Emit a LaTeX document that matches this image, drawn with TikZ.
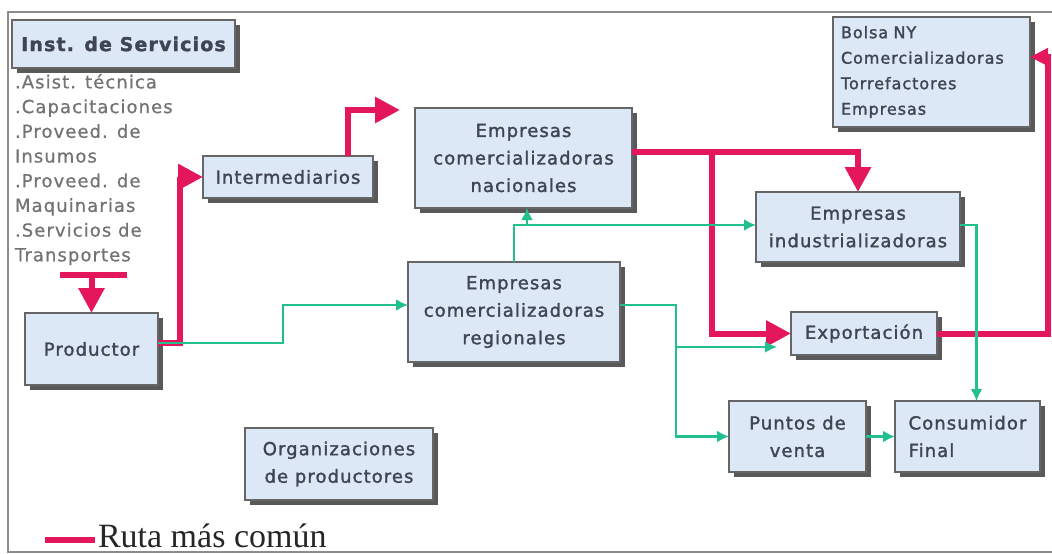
\documentclass[tikz,border=0pt]{standalone}
\usepackage{fontspec}
\setmainfont{DejaVu Sans}
\newfontfamily\cajafont[LetterSpace=6,FakeBold=1.6]{DejaVu Sans}
\newfontfamily\listafont[LetterSpace=6,FakeBold=0.8]{DejaVu Sans}
\newfontfamily\leyendafont{Liberation Serif}
\usetikzlibrary{arrows.meta,shadows}
\definecolor{ruta}{HTML}{E5175C}
\definecolor{otra}{HTML}{22C08E}
\definecolor{fondocaja}{HTML}{DCE8F5}
\definecolor{textocaja}{HTML}{3F4552}

\begin{document}
\begin{tikzpicture}[x=1pt,y=-1pt]
\tikzset{ >=latex, inner sep=0pt, outer sep=0pt,
  caja/.style={draw=black!60, line width=1.5pt, fill=fondocaja, align=center, text=textocaja,
    drop shadow={shadow xshift=5pt, shadow yshift=-5pt, fill=black!65, opacity=1},
    font=\cajafont\fontsize{18}{27.5}\selectfont},
  roja/.style={draw=ruta, line width=6pt, -{Triangle[length=25pt,width=25pt]}},
  verde/.style={draw=otra, line width=2.8pt, -{Latex[length=12pt,width=12pt]}},
}
\useasboundingbox (0,0) rectangle (1052,554);
%\draw [lightgray, dashed](0,0) grid [step=50] (1052,554);
\draw [black!45, line width=1.5pt] (1052,12) -- (8,12) -- (8,552) -- (1052,552);

\node [caja, minimum width=223pt, minimum height=48pt, font=\cajafont\fontsize{19}{22}\selectfont\bfseries] (INS) at (123.5,44) {Inst. de Servicios};
\node [anchor=north west, align=left, text=black!55, font=\listafont\fontsize{18}{24.7}\selectfont] (LIS) at (15,74)
  {.Asist. técnica\\.Capacitaciones\\.Proveed. de\\Insumos\\.Proveed. de\\Maquinarias\\.Servicios de\\Transportes};

\node [caja, minimum width=133pt, minimum height=72pt] (PRO) at (91.5,349) {Productor};
\node [caja, minimum width=170pt, minimum height=42pt] (INT) at (288,177) {Intermediarios};
\node [caja, minimum width=217pt, minimum height=100pt] (NAC) at (523.5,158) {Empresas\\comercializadoras\\nacionales};
\node [caja, minimum width=212pt, minimum height=100pt] (REG) at (514,312) {Empresas\\comercializadoras\\regionales};
\node [caja, minimum width=204pt, minimum height=70pt] (IND) at (858,227) {Empresas\\industrializadoras};
\node [caja, minimum width=146pt, minimum height=43pt] (EXP) at (864,333.5) {Exportación};
\node [caja, minimum width=137pt, minimum height=71pt] (PV) at (797.5,436.5) {Puntos de\\venta};
\node [caja, minimum width=145pt, minimum height=71pt, align=left] (CON) at (967.5,436.5) {Consumidor\\Final};
\node [caja, minimum width=188pt, minimum height=72pt] (ORG) at (339,464) {Organizaciones\\de productores};
\node [caja, minimum width=197pt, minimum height=110pt, text width=181pt, align=left,
  font=\cajafont\fontsize{16}{25.5}\selectfont] (BOL) at (931.5,72) {Bolsa NY\\Comercializadoras\\Torrefactores\\Empresas};

\node [anchor=west, text=black!85, font=\leyendafont\fontsize{34}{36}\selectfont] (LEY) at (98,536) {Ruta más común};
\draw [ruta, line width=6pt] (45,540) -- (95,540);

% ruta mas comun
\coordinate (T)    at (91.5,275);
\coordinate (NACP) at (400,110);
\coordinate (R1)   at (712,152);
\coordinate (R2)   at (1048,57);
\draw [ruta, line width=6pt] (60,275) -- (127,275);
\draw [roja] (T) -- (PRO);
\draw [roja] ([yshift=6pt]PRO.east) -- ++(22,0) |- (INT.west);
\draw [roja] ([xshift=60pt]INT.north) |- (NACP);
\draw [roja] ([yshift=6pt]NAC.east) -| (IND.north);
\draw [roja] (R1) |- (EXP.west);
\draw [roja, -{Triangle[length=18pt,width=17pt]}] (EXP.east) -| (R2) -- ([yshift=15pt]BOL.east);

% otras rutas
\coordinate (G1) at (527,225);
\coordinate (G2) at (676,347);
\draw [verde] ([yshift=6pt]PRO.east) -- ++(125,0) |- ([yshift=7pt]REG.west);
\draw [verde] (REG.north) |- ([yshift=2pt]IND.west);
\draw [verde] (G1) -- (NAC.south -| G1);
\draw [verde] ([yshift=7pt]REG.east) -- ++(56,0) |- (PV.west);
\draw [verde] (G2) -- ([xshift=-14pt]EXP.west |- G2);
\draw [verde] ([yshift=2pt]IND.east) -| ([xshift=9pt]CON.north);
\draw [verde] (PV) -- (CON);

\end{tikzpicture}
\end{document}
